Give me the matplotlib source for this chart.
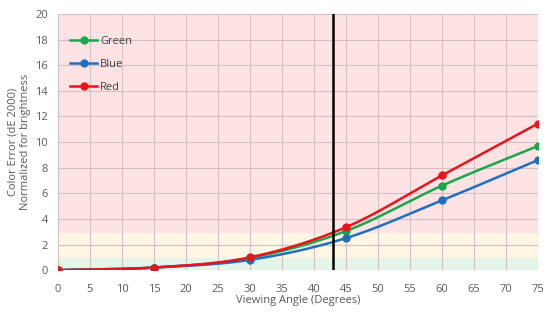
import numpy as np
import matplotlib
matplotlib.use("Agg")
import matplotlib.pyplot as plt

angles = [0, 15, 30, 45, 60, 75]
green = [0.0, 0.2, 0.95, 3.05, 6.6, 9.7]
blue = [0.0, 0.2, 0.8, 2.5, 5.45, 8.6]
red = [0.0, 0.2, 1.0, 3.35, 7.4, 11.45]
cutoff = 43

plt.rcParams['font.family'] = ['Open Sans', 'DejaVu Sans']


def smooth(x, y, n=30):
    # catmull-rom curve through the points, like excel's smoothed line
    x = np.asarray(x, float)
    y = np.asarray(y, float)
    px = np.concatenate([[2 * x[0] - x[1]], x, [2 * x[-1] - x[-2]]])
    py = np.concatenate([[2 * y[0] - y[1]], y, [2 * y[-1] - y[-2]]])
    xs, ys = [], []
    t = np.linspace(0, 1, n)
    for i in range(1, len(px) - 2):
        for p, out in ((px, xs), (py, ys)):
            p0, p1, p2, p3 = p[i - 1], p[i], p[i + 1], p[i + 2]
            out.extend(0.5 * (2 * p1 + (-p0 + p2) * t
                              + (2 * p0 - 5 * p1 + 4 * p2 - p3) * t ** 2
                              + (-p0 + 3 * p1 - 3 * p2 + p3) * t ** 3))
    return xs, ys


fig = plt.figure(figsize=(5.57, 3.13), dpi=100)
ax = fig.add_axes([0.104, 0.137, 0.862, 0.818])

ax.axhspan(0, 1, color="#e3f4e9", zorder=0)
ax.axhspan(1, 3, color="#fff7e3", zorder=0)
ax.axhspan(3, 20, color="#fde3e4", zorder=0)

for v in np.arange(0, 76, 5):
    ax.axvline(v, color="#d3bfc3", lw=0.8, zorder=1)
for v in np.arange(0, 21, 2):
    ax.axhline(v, color="#d3bfc3", lw=0.8, zorder=1)

for vals, col, name in ((green, "#1aa64a", "Green"), (blue, "#1f6fc0", "Blue"),
                        (red, "#e8141c", "Red")):
    sx, sy = smooth(angles, vals)
    ax.plot(sx, sy, color=col, lw=1.8, zorder=3)
    ax.plot(angles, vals, "o", color=col, ms=5, zorder=4)
    ax.plot([], [], "-o", color=col, lw=1.8, ms=5, label=name)

ax.axvline(cutoff, color="black", lw=1.8, zorder=5)

ax.set_xlim(0, 75)
ax.set_ylim(0, 20)
ax.set_xticks(np.arange(0, 76, 5))
ax.set_yticks(np.arange(0, 21, 2))
for s in ax.spines.values():
    s.set_visible(False)
ax.tick_params(colors="#595959", labelsize=8, length=0)
ax.tick_params(axis="x", pad=10)
ax.tick_params(axis="y", pad=7)
ax.set_xlabel("Viewing Angle (Degrees)", color="#595959", fontsize=8, labelpad=0)
ax.set_ylabel("Color Error (dE 2000)\nNormalized for brightness", color="#595959",
              fontsize=8, labelpad=3)

leg = ax.legend(loc="upper left", bbox_to_anchor=(0.005, 0.955), frameon=False,
                fontsize=8, handlelength=2.4, labelspacing=1.1, handletextpad=0.3)
for t in leg.get_texts():
    t.set_color("#404040")

fig.savefig("out.png", dpi=100)
